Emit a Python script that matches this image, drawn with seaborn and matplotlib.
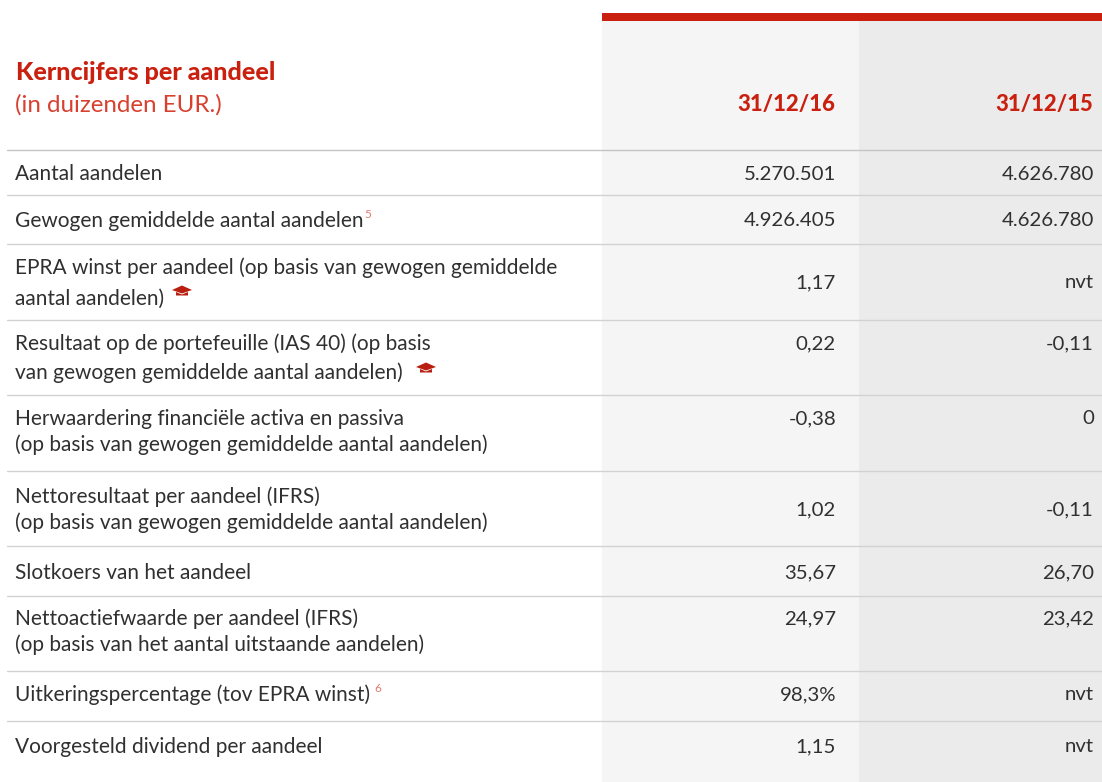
import numpy as np
import matplotlib
matplotlib.use('Agg')
import matplotlib.pyplot as plt
from matplotlib.patches import Polygon
import seaborn as sns

title = "Kerncijfers per aandeel"
subtitle = "(in duizenden EUR.)"
periods = ["31/12/16", "31/12/15"]

labels = [
    ["Aantal aandelen"],
    ["Gewogen gemiddelde aantal aandelen"],
    ["EPRA winst per aandeel (op basis van gewogen gemiddelde", "aantal aandelen)"],
    ["Resultaat op de portefeuille (IAS 40) (op basis", "van gewogen gemiddelde aantal aandelen)"],
    ["Herwaardering financiële activa en passiva", "(op basis van gewogen gemiddelde aantal aandelen)"],
    ["Nettoresultaat per aandeel (IFRS)", "(op basis van gewogen gemiddelde aantal aandelen)"],
    ["Slotkoers van het aandeel"],
    ["Nettoactiefwaarde per aandeel (IFRS)", "(op basis van het aantal uitstaande aandelen)"],
    ["Uitkeringspercentage (tov EPRA winst)"],
    ["Voorgesteld dividend per aandeel"],
]
values_2016 = ["5.270.501", "4.926.405", "1,17", "0,22", "-0,38", "1,02", "35,67", "24,97", "98,3%", "1,15"]
values_2015 = ["4.626.780", "4.626.780", "nvt", "-0,11", "0", "-0,11", "26,70", "23,42", "nvt", "nvt"]

# layout in pixels
W, H = 1102, 782
rules = [150, 195, 244, 320, 395, 471, 546, 596, 671, 721]
label_y = [[174], [221], [268, 299], [344, 373], [419, 445], [497, 523], [573], [619, 645], [695], [747]]
value_y = [174, 221, 283, 344, 419, 510, 573, 619, 695, 747]

RED = "#c9200f"
INK = "#303030"

sns.set_theme(style="white")
plt.rcParams['font.family'] = ['Lato', 'DejaVu Sans']

fig = plt.figure(figsize=(W / 100, H / 100), dpi=100, facecolor="white")

# column shading, the right cell runs off the figure so the split lands at x=859
bg = fig.add_axes([602 / W, 0, 514 / W, (H - 21) / H])
sns.heatmap(np.array([[0, 1]]), cmap=["#f5f5f5", "#ebebeb"], cbar=False, ax=bg,
            xticklabels=False, yticklabels=False)

ax = fig.add_axes([0, 0, 1, 1])
ax.set_xlim(0, W)
ax.set_ylim(H, 0)
ax.axis("off")
ax.patch.set_alpha(0)

ax.fill_between([602, 1102], 13, 21, color=RED, lw=0)
for i, y in enumerate(rules):
    ax.plot([7, 1102], [y, y], color="#c4c4c4" if i == 0 else "#d2d2d2", lw=1.0)

ax.text(16, 72, title, color=RED, fontsize=18, fontweight="black", va="center", ha="left")
ax.text(15, 105, subtitle, color="#d8402f", fontsize=17.4, va="center", ha="left")
ax.text(835.5, 105, periods[0], color=RED, fontsize=15.9, fontweight="black", va="center", ha="right")
ax.text(1093.5, 105, periods[1], color=RED, fontsize=15.9, fontweight="black", va="center", ha="right")

for lines, ys in zip(labels, label_y):
    for line, y in zip(lines, ys):
        ax.text(15, y, line, color=INK, fontsize=15, va="center", ha="left")

for v16, v15, y in zip(values_2016, values_2015, value_y):
    ax.text(836, y, v16, color=INK, fontsize=14.7, va="center", ha="right")
    ax.text(1094, y, v15, color=INK, fontsize=14.7, va="center", ha="right")

# footnote marks
ax.text(364, 215, "5", color="#e07a70", fontsize=8.5, va="center", ha="left")
ax.text(374, 689, "6", color="#e07a70", fontsize=8.5, va="center", ha="left")


def hat(cx, cy):
    # small graduation cap icon
    ax.add_patch(Polygon([(cx - 10, cy), (cx, cy - 4.5), (cx + 10, cy), (cx, cy + 3.5)], color="#b81f10", lw=0))
    ax.add_patch(Polygon([(cx - 6, cy + 2), (cx, cy + 4.5), (cx + 6, cy + 2), (cx + 6, cy + 5.5), (cx - 6, cy + 5.5)],
                         color="#b81f10", lw=0))


hat(182, 290)
hat(426, 367)

fig.savefig("out.png", dpi=100)
